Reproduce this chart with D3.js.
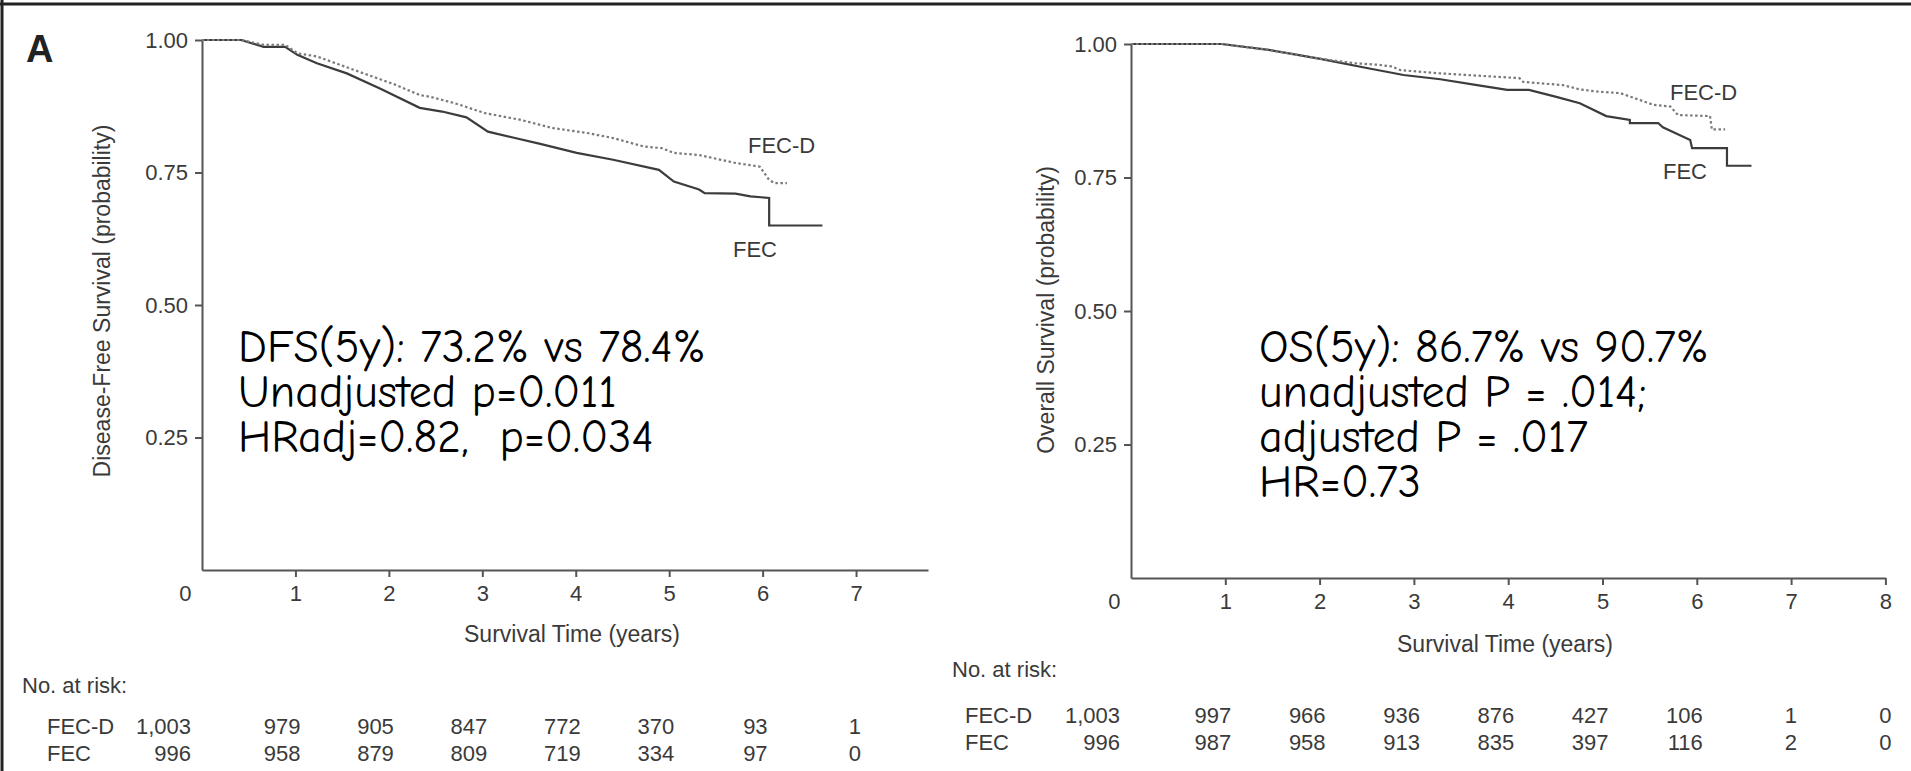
<!DOCTYPE html>
<html><head><meta charset="utf-8">
<script src="https://cdn.jsdelivr.net/npm/d3@7"></script>
<style>
html,body{margin:0;padding:0;background:#fff;}
svg{display:block;}
.ax text,.lbl{font-family:"Liberation Sans",Arial,Helvetica,sans-serif;font-size:22px;fill:#3a3a3a;}
.ax path,.ax line{stroke:#555;stroke-width:2;}
.note{font-family:"Comic Sans MS","Comic Neue","DejaVu Sans",sans-serif;font-size:46px;fill:#000;white-space:pre;}
</style></head><body>
<svg id="chart" width="1911" height="771"></svg>
<script>
// ---- data (time in years, survival probability) ----
const dfsFEC = [[0,1],[0.42,1],[0.66,0.987],[0.89,0.987],[1.02,0.972],[1.23,0.956],[1.55,0.937],[1.91,0.908],[2.33,0.872],[2.57,0.865],[2.83,0.854],[3.06,0.827],[3.35,0.815],[3.62,0.804],[4.01,0.787],[4.40,0.774],[4.89,0.755],[5.05,0.733],[5.32,0.718],[5.38,0.711],[5.71,0.710],[5.87,0.705],[6.07,0.702],[6.07,0.650],[6.64,0.650]];
const dfsFECD = [[0,1],[0.42,1],[0.66,0.991],[0.89,0.991],[1.02,0.975],[1.23,0.969],[1.73,0.937],[2.08,0.915],[2.33,0.896],[2.44,0.893],[2.70,0.881],[3.03,0.862],[3.42,0.849],[3.75,0.834],[4.14,0.824],[4.40,0.815],[4.73,0.799],[4.92,0.796],[5.05,0.787],[5.32,0.783],[5.71,0.768],[5.97,0.761],[6.07,0.736],[6.13,0.730],[6.26,0.730]];
const osFEC = [[0,1],[0.96,1],[1.46,0.989],[1.98,0.973],[2.50,0.955],[2.89,0.942],[3.28,0.934],[3.67,0.923],[3.99,0.914],[4.22,0.914],[4.51,0.901],[4.76,0.889],[5.04,0.865],[5.29,0.858],[5.29,0.852],[5.59,0.852],[5.64,0.844],[5.93,0.820],[5.95,0.805],[6.32,0.805],[6.32,0.772],[6.58,0.772]];
const osFECD = [[0,1],[0.96,1],[1.46,0.989],[1.98,0.973],[2.37,0.964],[2.63,0.961],[2.76,0.958],[2.86,0.951],[3.28,0.945],[4.12,0.936],[4.16,0.929],[4.58,0.923],[4.76,0.915],[4.94,0.911],[5.19,0.908],[5.54,0.886],[5.72,0.883],[5.80,0.867],[6.14,0.865],[6.16,0.840],[6.30,0.840]];

const yTicks = [0.25, 0.50, 0.75, 1.00];
const dfsXTicks = [0,1,2,3,4,5,6,7];
const osXTicks = [0,1,2,3,4,5,6,7,8];
const riskRows = ["FEC-D","FEC"];
const dfsRiskFECD = [1003,979,905,847,772,370,93,1];
const dfsRiskFEC  = [996,958,879,809,719,334,97,0];
const osRiskFECD  = [1003,997,966,936,876,427,106,1,0];
const osRiskFEC   = [996,987,958,913,835,397,116,2,0];
const dfsNotes = ["DFS(5y): 73.2% vs 78.4%","Unadjusted p=0.011","HRadj=0.82,  p=0.034"];
const osNotes  = ["OS(5y): 86.7% vs 90.7%","unadjusted P = .014;","adjusted P = .017","HR=0.73"];

const svg = d3.select("#chart");

// frame lines of the slide
svg.append("line").attr("x1",0).attr("x2",1911).attr("y1",4).attr("y2",4).attr("stroke","#222").attr("stroke-width",3);
svg.append("line").attr("x1",2).attr("x2",2).attr("y1",0).attr("y2",771).attr("stroke","#222").attr("stroke-width",3);

function panel(c){
  const x = d3.scaleLinear().domain([0,c.xMax]).range([c.x0,c.x1]);
  const y = d3.scaleLinear().domain([0,1]).range([c.yb,c.yt]);

  svg.append("g").attr("class","ax").attr("transform",`translate(${c.x0},0)`)
    .call(d3.axisLeft(y).tickValues(yTicks).tickFormat(d3.format(".2f")).tickSize(7).tickPadding(7).tickSizeOuter(0));

  const gx = svg.append("g").attr("class","ax").attr("transform",`translate(0,${c.yb})`)
    .call(d3.axisBottom(x).tickValues(c.xTicks).tickFormat(d3.format("d")).tickSize(7).tickPadding(8).tickSizeOuter(0));
  gx.selectAll(".tick").filter(d=>d===0).each(function(){
    d3.select(this).select("line").remove();
    d3.select(this).select("text").attr("text-anchor","end").attr("x",-11);
  });

  const line = d3.line().x(d=>x(d[0])).y(d=>y(d[1]));
  svg.append("path").datum(c.fec).attr("d",line).attr("fill","none").attr("stroke","#3c3c3c").attr("stroke-width",2.2);
  svg.append("path").datum(c.fecd).attr("d",line).attr("fill","none").attr("stroke","#7a7a7a").attr("stroke-width",2.2).attr("stroke-dasharray","2.5,2.5");

  svg.append("text").attr("class","lbl").attr("x",c.lblD[0]).attr("y",c.lblD[1]).text("FEC-D");
  svg.append("text").attr("class","lbl").attr("x",c.lblF[0]).attr("y",c.lblF[1]).text("FEC");

  svg.append("text").attr("class","lbl").attr("transform",`translate(${c.yTitle[0]},${c.yTitle[1]}) rotate(-90)`)
    .attr("text-anchor","middle").attr("dy","0.35em").style("font-size","23px").text(c.yLabel);
  svg.append("text").attr("class","lbl").attr("x",c.xTitle[0]).attr("y",c.xTitle[1])
    .attr("text-anchor","middle").style("font-size","23px").text("Survival Time (years)");

  // number at risk
  svg.append("text").attr("class","lbl").attr("x",c.risk.x).attr("y",c.risk.yHead).text("No. at risk:");
  const rows = [c.riskD, c.riskF];
  rows.forEach((vals,i)=>{
    const yy = c.risk.yRows[i];
    svg.append("text").attr("class","lbl").attr("x",c.risk.xName).attr("y",yy).text(riskRows[i]);
    svg.selectAll(null).data(vals).enter().append("text").attr("class","lbl")
      .attr("text-anchor","end")
      .attr("x",(d,j)=> j===0 ? x(0)-11 : x(j)+c.risk.off)
      .attr("y",yy).text(d=>d3.format(",")(d));
  });

  c.notes.forEach((s,i)=>{
    svg.append("text").attr("class","note").attr("x",c.noteX).attr("y",c.noteY + i*c.noteDy).text(s);
  });
}

panel({xMax:7.77, x0:202, x1:928, yb:570, yt:40, xTicks:dfsXTicks, fec:dfsFEC, fecd:dfsFECD,
  lblD:[748,153], lblF:[733,257], yLabel:"Disease-Free Survival (probability)", yTitle:[102,301], xTitle:[572,642],
  risk:{x:22,yHead:693,xName:47,yRows:[734,761],off:5}, riskD:dfsRiskFECD, riskF:dfsRiskFEC,
  notes:dfsNotes, noteX:238, noteY:362, noteDy:45});

panel({xMax:8, x0:1131, x1:1885.4, yb:578, yt:44, xTicks:osXTicks, fec:osFEC, fecd:osFECD,
  lblD:[1670,100], lblF:[1663,179], yLabel:"Overall Survival (probability)", yTitle:[1046,310], xTitle:[1505,652],
  risk:{x:952,yHead:677,xName:965,yRows:[723,750],off:6}, riskD:osRiskFECD, riskF:osRiskFEC,
  notes:osNotes, noteX:1259, noteY:362, noteDy:45});

svg.append("text").attr("x",26).attr("y",62).style("font-family","Liberation Sans,Arial,sans-serif")
  .style("font-weight","bold").style("font-size","38px").attr("fill","#222").text("A");
</script>
</body></html>
